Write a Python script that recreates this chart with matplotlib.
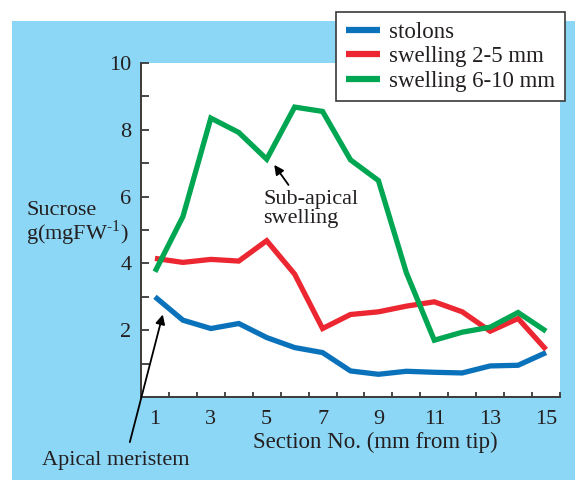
import matplotlib
matplotlib.use("Agg")
import matplotlib.pyplot as plt
from matplotlib.patches import Rectangle

plt.rcParams["font.family"] = ["Liberation Serif", "DejaVu Serif"]
plt.rcParams["mathtext.fontset"] = "custom"
plt.rcParams["mathtext.rm"] = "Liberation Serif"

# Sucrose content along the stolon, by 1-mm section from the tip
sections = list(range(1, 16))
stolons = [3.0, 2.3, 2.05, 2.2, 1.78, 1.48, 1.33, 0.78, 0.68, 0.77, 0.74, 0.72, 0.93, 0.95, 1.33]
swelling_2_5 = [4.15, 4.03, 4.12, 4.07, 4.68, 3.68, 2.05, 2.47, 2.55, 2.72, 2.85, 2.55, 1.97, 2.35, 1.42]
swelling_6_10 = [3.75, 5.4, 8.35, 7.92, 7.12, 8.68, 8.55, 7.1, 6.48, 3.72, 1.7, 1.94, 2.09, 2.53, 1.97]

series_labels = ["stolons", "swelling 2-5 mm", "swelling 6-10 mm"]
series_colors = ["#0a72ba", "#ec2731", "#00a651"]

x_tick_labels = ["1", "3", "5", "7", "9", "11", "13", "15"]
y_tick_labels = ["2", "4", "6", "8", "10"]

TEXT = "#231f20"
PANEL = "#8dd7f6"
SERIF = ["Liberation Serif", "DejaVu Serif"]
W, H = 575, 480

fig = plt.figure(figsize=(W / 100, H / 100), dpi=100)
fig.patch.set_facecolor("white")
fig.patches.append(Rectangle((12 / W, 0), 1 - 12 / W, 1 - 21 / H,
                             transform=fig.transFigure, facecolor=PANEL,
                             edgecolor="none", zorder=-10))

ax = fig.add_axes([141 / W, 1 - 397 / H, (560 - 141) / W, (397 - 63) / H])
ax.set_zorder(1)
ax.set_facecolor("white")

for vals, lab, col in zip([stolons, swelling_2_5, swelling_6_10], series_labels, series_colors):
    ax.plot(sections, vals, color=col, lw=3.8, label=lab,
            solid_joinstyle="miter", solid_capstyle="butt", zorder=3)

ax.set_xlim(0.5, 15.5)
ax.set_ylim(0, 10)

for s in ["top", "right"]:
    ax.spines[s].set_visible(False)
for s in ["left", "bottom"]:
    ax.spines[s].set_color("#3a3a3a")
    ax.spines[s].set_linewidth(1.4)

# y axis: labelled even values, unlabelled odd ticks, ticks pointing inward
ax.set_yticks([int(v) for v in y_tick_labels])
ax.set_yticklabels(y_tick_labels)
ax.set_yticks(range(1, 11, 2), minor=True)
ax.tick_params(axis="y", which="both", direction="in", length=6, width=1.3,
               color="#3a3a3a", labelsize=16, labelcolor=TEXT, pad=7)

# x axis: section labels centred, ticks at section boundaries
ax.set_xticks([int(v) for v in x_tick_labels])
ax.set_xticklabels(x_tick_labels)
ax.set_xticks([i + 0.5 for i in range(1, 16)], minor=True)
ax.tick_params(axis="x", which="major", length=0, labelsize=16, labelcolor=TEXT, pad=9)
ax.tick_params(axis="x", which="minor", direction="in", length=3.5, width=1.3, color="#3a3a3a")

ax.set_xlabel("Section No. (mm from tip)", fontsize=16.5, color=TEXT)
ax.xaxis.set_label_coords(375.5 / W, 1 - 432 / H, transform=fig.transFigure)

# y-axis title in two lines
fig.text(26 / W, 1 - 215 / H, "Sucrose", fontsize=16, color=TEXT,
         ha="left", va="baseline", zorder=2)
fig.text(26 / W, 1 - 240 / H, "g(mgFW$^{\\text{-1}}$)", fontsize=16, color=TEXT,
         ha="left", va="baseline", zorder=2)

# annotations
ax.text(4.87, 6.2, "Sub-apical\nswelling", fontsize=16, color=TEXT,
        ha="left", va="top", linespacing=1.0, zorder=4)
ax.annotate("", xy=(5.27, 6.95), xytext=(5.78, 6.35),
            arrowprops=dict(arrowstyle="-|>", color="black", lw=1.3,
                            mutation_scale=14, shrinkA=0, shrinkB=0), zorder=4)

ax.annotate("", xy=(1.28, 2.47), xytext=(0.1, -1.35),
            arrowprops=dict(arrowstyle="-|>", color="black", lw=1.3,
                            mutation_scale=14, shrinkA=0, shrinkB=0),
            annotation_clip=False, zorder=4)
fig.text(116 / W, 1 - 461 / H, "Apical meristem", fontsize=16, color=TEXT,
         ha="center", va="center", zorder=2)

leg = ax.legend(loc="upper left", bbox_to_anchor=(336 / W, 1 - 12 / H),
                bbox_transform=fig.transFigure, borderaxespad=0,
                frameon=True, fancybox=False, framealpha=1,
                prop=dict(family=SERIF, size=16.5),
                handlelength=1.5, handletextpad=0.4, labelspacing=0.15,
                borderpad=0.42)
leg.get_frame().set_facecolor("white")
leg.get_frame().set_edgecolor("#3a3a3a")
leg.get_frame().set_linewidth(1.2)
for t in leg.get_texts():
    t.set_color(TEXT)
for h in leg.get_lines():
    h.set_linewidth(4.5)

fig.savefig("out.png", dpi=100, facecolor=fig.get_facecolor())
